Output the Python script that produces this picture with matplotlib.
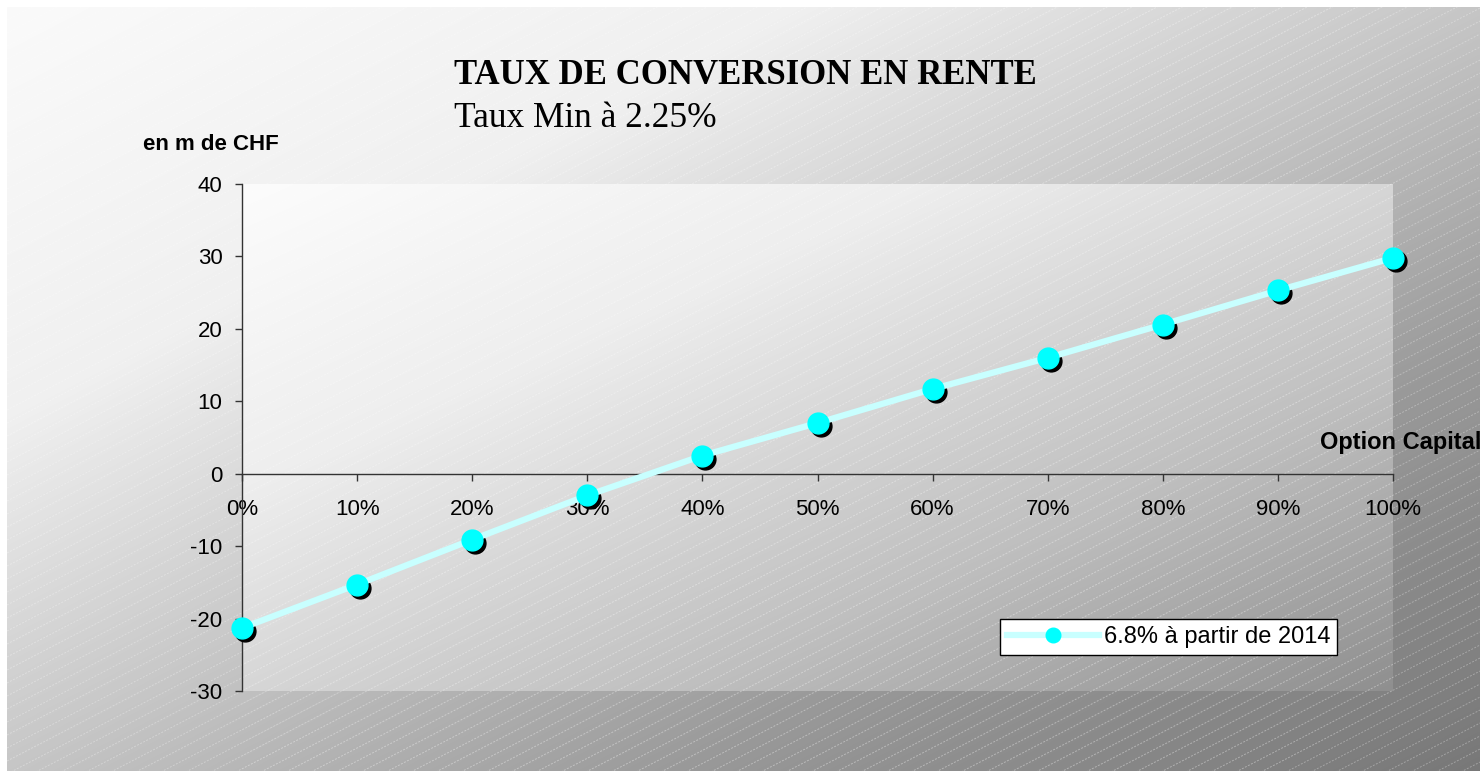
import numpy as np
import matplotlib
matplotlib.use("Agg")
import matplotlib.pyplot as plt
from matplotlib.transforms import offset_copy
from matplotlib.collections import LineCollection

# ---- data ----
x_labels = ["0%", "10%", "20%", "30%", "40%", "50%", "60%", "70%", "80%", "90%", "100%"]
option_capital = [0, 10, 20, 30, 40, 50, 60, 70, 80, 90, 100]
values = [-21.3, -15.3, -9.1, -3.0, 2.5, 7.0, 11.7, 16.0, 20.6, 25.3, 29.8]
y_ticks = [-30, -20, -10, 0, 10, 20, 30, 40]
series_label = "6.8% à partir de 2014"
title = "TAUX DE CONVERSION EN RENTE"
subtitle = "Taux Min à 2.25%"
y_unit = "en m de CHF"
x_name = "Option Capital"

W, H = 1480, 771
fig = plt.figure(figsize=(W / 100, H / 100), dpi=100)
fig.patch.set_facecolor("white")

# ---- background (pixel coordinates) ----
bg = fig.add_axes([0, 0, 1, 1], zorder=-2)
bg.set_xlim(0, W)
bg.set_ylim(H, 0)
bg.axis("off")

def diag_grad(x0, y0, x1, y1, tpts, vpts, n=300):
    xs = np.linspace(0, 1, n)
    ys = np.linspace(0, 1, n)
    X, Y = np.meshgrid(xs, ys)
    T = (X + Y) / 2
    V = np.interp(T, tpts, vpts) / 255.0
    img = np.dstack([V, V, V])
    bg.imshow(img, extent=(x0, x1, y1, y0), origin="upper", aspect="auto",
              interpolation="bilinear", zorder=0)

# outer chart area
diag_grad(7, 7, W, H, [0, 0.27, 0.5, 0.73, 1.0], [250, 240, 198, 153, 120])

def hatch(x0, y0, x1, y1, alpha, z):
    segs = []
    slope = 0.52
    step = 13
    for c in np.arange(y0 - (x1 - x0) * slope - step, y1 + step, step):
        segs.append([(x0, c + slope * (x1 - x0)), (x1, c)])
    lc = LineCollection(segs, colors="white", linewidths=0.7, alpha=alpha,
                        linestyles=(0, (2, 1.5)), zorder=z)
    rect = plt.Rectangle((x0, y0), x1 - x0, y1 - y0, transform=bg.transData)
    lc.set_clip_path(rect)
    bg.add_collection(lc)

hatch(7, 7, W, H, 0.3, 1)

# plot area
px0, px1, py0, py1 = 242, 1393, 184, 691
diag_grad(px0, py0, px1, py1, [0, 0.3, 0.5, 0.7, 1.0], [252, 238, 214, 190, 143])
hatch(px0, py0, px1, py1, 0.1, 3)

# ---- main axes ----
ax = fig.add_axes([px0 / W, 1 - py1 / H, (px1 - px0) / W, (py1 - py0) / H])
ax.patch.set_alpha(0)
ax.set_xlim(0, 100)
ax.set_ylim(-30, 40)

ax.spines["top"].set_visible(False)
ax.spines["right"].set_visible(False)
ax.spines["bottom"].set_position(("data", 0))
for s in ["bottom", "left"]:
    ax.spines[s].set_color("#333333")
    ax.spines[s].set_linewidth(1.0)

ax.set_xticks(option_capital)
ax.set_xticklabels(x_labels)
ax.set_yticks(y_ticks)
ax.set_yticklabels([str(v) for v in y_ticks])
ax.tick_params(axis="x", direction="out", length=5, width=1, color="#333333",
               pad=13, labelsize=16)
ax.tick_params(axis="y", direction="out", length=5, width=1, color="#333333",
               pad=9, labelsize=16)
for lab in ax.get_xticklabels() + ax.get_yticklabels():
    lab.set_fontfamily("Liberation Sans")

# shadow markers
shadow = offset_copy(ax.transData, fig=fig, x=3, y=-3, units="dots")
ax.plot(option_capital, values, linestyle="none", marker="o", markersize=15,
        color="black", transform=shadow, zorder=3, clip_on=False)
ax.plot(option_capital, values, color="#c8ffff", linewidth=4.5, marker="o",
        markersize=15, markerfacecolor="#00ffff", markeredgecolor="#00ffff",
        label=series_label, zorder=4, clip_on=False)

leg = ax.legend(loc="upper left", bbox_to_anchor=(1000 / W, 1 - 619 / H),
                bbox_transform=fig.transFigure, borderaxespad=0, frameon=True,
                fancybox=False, edgecolor="black", framealpha=1,
                prop={"family": "Liberation Sans", "size": 17},
                handlelength=3.9, handletextpad=0.2, borderpad=0.3,
                markerscale=0.7)
leg.get_frame().set_linewidth(1.0)

# ---- texts ----
fig.text(454 / W, 1 - 84 / H, title, fontsize=25, fontweight="bold",
         family="Liberation Serif", ha="left", va="baseline")
fig.text(454 / W, 1 - 127 / H, subtitle, fontsize=25.5,
         family="Liberation Serif", ha="left", va="baseline")
fig.text(143 / W, 1 - 150 / H, y_unit, fontsize=16, fontweight="bold",
         family="Liberation Sans", ha="left", va="baseline")
fig.text(1320 / W, 1 - 449 / H, x_name, fontsize=17, fontweight="bold",
         family="Liberation Sans", ha="left", va="baseline")

fig.savefig("out.png", dpi=100)
